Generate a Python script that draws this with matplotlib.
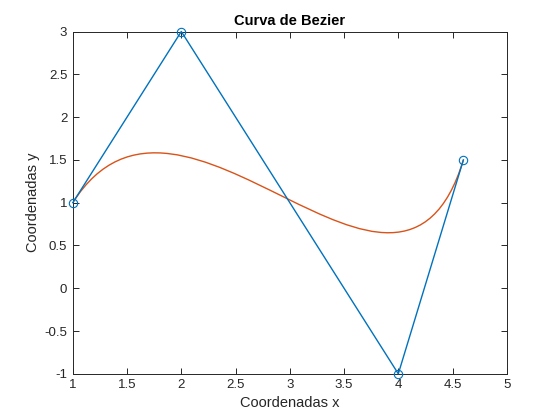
import matplotlib
matplotlib.use("Agg")
import matplotlib.pyplot as plt
from matplotlib.path import Path
from matplotlib.patches import PathPatch

# Control points of the cubic Bezier curve
ctrl_x = [1, 2, 4, 4.6]
ctrl_y = [1, 3, -1, 1.5]

x_ticks = [1, 1.5, 2, 2.5, 3, 3.5, 4, 4.5, 5]
y_ticks = [-1, -0.5, 0, 0.5, 1, 1.5, 2, 2.5, 3]
x_labels = ["1", "1.5", "2", "2.5", "3", "3.5", "4", "4.5", "5"]
y_labels = ["-1", "-0.5", "0", "0.5", "1", "1.5", "2", "2.5", "3"]

plt.rcParams['font.family'] = ['Liberation Sans', 'DejaVu Sans']

fig = plt.figure(figsize=(5.6, 4.2), dpi=100)
ax = fig.add_axes([0.13, 0.11, 0.775, 0.815])

ax.plot(ctrl_x, ctrl_y, '-o', color='#0072BD', lw=1.0, markersize=6,
        markerfacecolor='none', markeredgewidth=0.8, clip_on=False, zorder=3)

verts = list(zip(ctrl_x, ctrl_y))
codes = [Path.MOVETO, Path.CURVE4, Path.CURVE4, Path.CURVE4]
patch = PathPatch(Path(verts, codes), facecolor='none', edgecolor='#D95319', lw=1.0, zorder=2)
ax.add_patch(patch)

ax.set_xlim(1, 5)
ax.set_ylim(-1, 3)
ax.set_xticks(x_ticks)
ax.set_xticklabels(x_labels)
ax.set_yticks(y_ticks)
ax.set_yticklabels(y_labels)
ax.tick_params(direction='in', top=True, right=True, length=4, width=0.7,
               labelsize=9.5, colors='#262626', pad=4)
for s in ax.spines.values():
    s.set_linewidth(0.7)
    s.set_color('#262626')

ax.set_title('Curva de Bezier', fontsize=10.5, fontweight='bold', color='black', pad=5)
ax.set_xlabel('Coordenadas x', fontsize=10.5, color='#262626', labelpad=3)
ax.set_ylabel('Coordenadas y', fontsize=10.5, color='#262626', labelpad=3)

fig.savefig('out.png', dpi=100)
